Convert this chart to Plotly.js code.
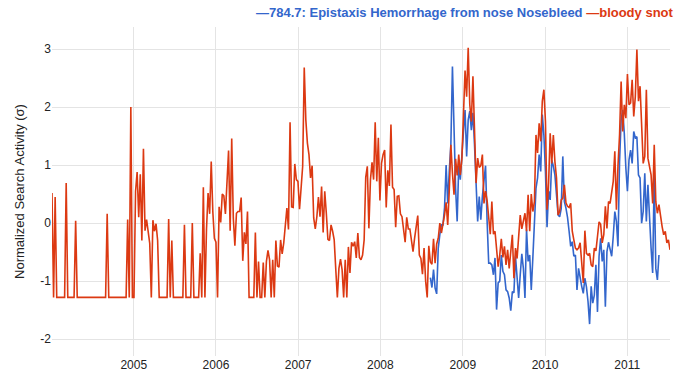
<!DOCTYPE html>
<html>
<head>
<meta charset="utf-8">
<script src="https://cdn.plot.ly/plotly-3.0.1.min.js"></script>
<style>html,body{margin:0;padding:0;background:#fff;}#chart{width:684px;height:380px;}</style>
</head>
<body>
<div id="chart"></div>
<script>
// Weekly series, first week starting 2004-01-04
const firstWeek = '2004-01-04';
const lastDay = '2011-07-10';

// "bloody snot" weekly normalized search activity (σ)
const bloodySnot = [
  0.52,-1.28,0.45,-1.28,-1.28,-1.28,-1.28,-1.28,-1.28,0.69,
  -1.28,-1.28,-1.28,-1.28,-1.28,0.04,-1.28,-1.28,-1.28,-1.28,
  -1.28,-1.28,-1.28,-1.28,-1.28,-1.28,-1.28,-1.28,-1.28,-1.28,
  -1.28,-1.28,-1.28,-1.28,-1.28,0.16,-1.28,-1.28,-1.28,-1.28,
  -1.28,-1.28,-1.28,-1.28,-1.28,-1.28,-1.28,-1.28,0.06,-1.28,
  2.0,-1.28,-1.28,0.55,0.88,0.1,0.84,-0.3,1.28,-0.13,
  0.06,-0.14,-0.35,-1.28,0.05,-0.14,-0.01,-0.3,-1.28,-1.28,
  -1.28,-1.28,-1.28,-1.28,0.07,-1.28,-0.3,-1.28,-1.28,-1.28,
  -1.28,-1.28,-1.28,-1.28,-0.03,-1.28,-1.28,-1.28,-1.28,0.0,
  -1.28,-1.28,-1.28,-1.28,-0.52,-1.28,0.62,-1.28,-0.1,0.52,
  0.16,1.06,0.2,-0.26,-0.33,-1.28,0.28,0.01,0.5,0.47,
  0.16,0.7,1.25,-0.13,1.46,0.09,-0.39,0.17,0.2,0.2,
  0.44,-0.65,-0.16,-0.36,0.2,-1.28,-1.28,-1.28,-1.28,-0.16,
  -1.28,-0.66,-1.28,-1.28,-0.68,-1.28,-0.66,-0.47,-0.63,-1.28,
  -0.63,-1.28,-0.3,-0.74,-0.76,-0.29,-0.53,-0.34,0.0,0.26,
  -0.11,1.74,0.28,0.27,1.02,0.75,0.72,0.24,0.6,0.98,
  2.68,1.78,1.38,1.18,0.78,0.99,0.09,-0.1,0.11,0.45,
  0.11,0.63,-0.16,0.55,0.17,-0.28,-0.3,-0.03,-0.14,-0.29,
  -0.8,-1.28,-0.78,-0.62,-0.8,-1.28,-0.63,-1.28,-0.41,-0.86,
  -0.33,-0.4,-0.32,-0.6,-0.17,-0.59,-0.63,-0.55,-0.29,0.79,
  0.98,-0.09,0.75,1.05,0.75,1.74,0.72,1.47,0.39,1.03,
  1.18,1.26,0.27,0.91,0.64,1.7,0.62,0.58,-0.07,0.46,
  0.47,0.16,0.11,-0.13,-0.33,0.1,-0.1,-0.1,-0.32,-0.49,
  -0.26,-0.04,0.13,-0.55,-0.61,-0.88,-0.43,-1.0,-1.28,-0.39,
  -0.67,-0.71,-0.27,-0.69,-0.36,-0.26,0.0,-0.17,-0.03,0.14,
  0.36,-0.03,0.57,1.35,0.86,0.49,1.11,0.82,1.18,0.83,
  1.12,1.78,2.63,2.18,3.02,2.04,1.75,2.53,1.75,0.69,
  1.12,0.96,0.99,1.18,0.34,0.55,0.39,0.06,-0.19,0.37,
  -0.19,-0.14,-0.43,-0.75,-0.55,-0.27,-0.59,-0.4,-0.72,-0.46,
  -0.78,-0.43,-0.2,-0.95,-0.43,-0.61,-0.3,0.14,-0.1,0.06,
  0.17,-0.14,0.49,-0.14,0.5,0.2,0.37,1.52,1.21,1.72,
  1.41,2.1,2.3,1.75,0.23,0.69,1.55,1.03,1.52,1.06,
  0.78,0.14,0.2,0.4,0.43,0.66,0.35,0.29,0.27,0.34,
  -0.14,-0.29,-0.43,-0.46,-0.43,-0.34,-0.72,-1.03,-0.13,-0.52,
  -0.55,-0.52,-0.72,-0.75,-0.43,-0.48,-0.23,0.02,-0.02,-0.34,
  -0.2,0.29,-0.09,0.37,0.34,0.55,0.72,1.24,0.23,0.98,
  1.52,2.44,1.58,2.04,1.81,2.57,2.04,2.07,2.47,1.84,
  2.18,2.99,2.1,2.36,1.58,1.03,1.15,2.3,1.12,0.98,
  0.83,0.34,1.35,0.37,0.17,0.32,0.11,-0.06,-0.2,-0.14,
  -0.34,-0.29,-0.46
];

// "784.7: Epistaxis Hemorrhage from nose Nosebleed", begins at week 240
const epistaxisFirstWeekIndex = 240;
const epistaxis = [
  -0.94,-1.11,-0.8,-1.12,-1.22,-0.43,-0.2,-0.03,-0.03,0.27,
  1.0,0.34,0.9,1.35,2.7,1.32,0.6,0.03,1.0,0.75,
  1.09,1.58,1.95,1.15,1.78,1.93,1.6,1.9,1.35,0.72,
  0.03,0.46,0.06,0.46,0.78,0.99,0.03,-0.69,-0.69,-0.72,
  -0.89,-0.6,-1.49,-1.03,-1.0,-0.55,-0.83,-0.89,-1.15,-1.18,
  -1.29,-1.51,-1.18,-1.2,-0.57,-1.03,-1.29,-0.89,-0.53,-0.78,
  -1.29,-0.11,-0.66,-0.55,-1.15,-0.6,-0.09,0.6,0.78,1.18,
  0.89,1.87,1.52,0.89,-0.07,0.55,0.4,1.09,0.98,0.83,
  0.49,0.14,0.11,0.25,1.15,0.37,0.26,0.1,-0.14,-0.4,
  -0.32,-0.57,-0.55,-1.15,-0.78,-0.98,-1.09,-1.21,-0.95,-1.1,
  -1.35,-1.74,-1.09,-1.38,-1.24,-0.72,-1.53,-0.57,-0.26,-0.66,
  -0.46,-1.44,-0.49,-0.33,-0.46,-0.57,-0.23,0.2,0.03,-0.4,
  1.06,1.78,1.95,1.55,0.95,0.55,1.09,1.26,1.03,1.58,
  1.47,1.49,0.83,0.78,0.0,0.2,0.86,0.03,0.66,-0.03,
  -0.43,-0.86,0.83,-0.78,-0.98,-0.55
];

const yearTicks = ['2005-01-01','2006-01-01','2007-01-01','2008-01-01','2009-01-01','2010-01-01','2011-01-01'];
const yearLabels = ['2005','2006','2007','2008','2009','2010','2011'];
const yTicks = [-2,-1,0,1,2,3];
const yTickLabels = ['-2','-1','0','1','2','3'];
const seriesNames = ['784.7: Epistaxis Hemorrhage from nose Nosebleed','bloody snot'];
const seriesColors = ['#3366cc','#dc3912'];

function weekDates(startIndex, n) {
  const base = new Date(firstWeek + 'T00:00:00Z').getTime();
  const out = [];
  for (let i = 0; i < n; i++) {
    const d = new Date(base + (startIndex + i) * 7 * 86400000);
    out.push(d.toISOString().slice(0, 10));
  }
  return out;
}

const traces = [
  {
    x: weekDates(epistaxisFirstWeekIndex, epistaxis.length),
    y: epistaxis,
    type: 'scatter', mode: 'lines', name: seriesNames[0],
    line: {color: seriesColors[0], width: 1.6}
  },
  {
    x: weekDates(0, bloodySnot.length),
    y: bloodySnot,
    type: 'scatter', mode: 'lines', name: seriesNames[1],
    line: {color: seriesColors[1], width: 1.6}
  }
];

const legendText = '<b><span style="color:' + seriesColors[0] + '">\u2014' + seriesNames[0] +
  '</span> <span style="color:' + seriesColors[1] + '">\u2014' + seriesNames[1] + '</span></b>';

const layout = {
  width: 684, height: 380,
  margin: {l: 52, r: 14, t: 27, b: 24, pad: 0},
  paper_bgcolor: '#ffffff', plot_bgcolor: '#ffffff',
  font: {family: 'Liberation Sans, Arial, sans-serif', size: 12, color: '#222222'},
  showlegend: false,
  xaxis: {
    type: 'date', range: [firstWeek, lastDay],
    tickmode: 'array', tickvals: yearTicks, ticktext: yearLabels,
    showgrid: true, gridcolor: '#e4e4e4', gridwidth: 1,
    zeroline: false, showline: false, ticks: '',
    tickfont: {size: 12, color: '#222222'}
  },
  yaxis: {
    range: [-2.29, 3.38],
    tickmode: 'array', tickvals: yTicks, ticktext: yTickLabels,
    showgrid: true, gridcolor: '#e4e4e4', gridwidth: 1,
    zeroline: false, showline: false, ticks: '',
    tickfont: {size: 12, color: '#222222'},
    title: {text: 'Normalized Search Activity (\u03c3)', font: {size: 13, color: '#222222'}, standoff: 12}
  },
  annotations: [{
    xref: 'paper', yref: 'paper', x: 1, y: 1,
    xanchor: 'right', yanchor: 'middle', xshift: 6, yshift: 15,
    showarrow: false, text: legendText,
    font: {size: 13, family: 'Liberation Sans, Arial, sans-serif'}
  }]
};

Plotly.newPlot('chart', traces, layout, {displayModeBar: false, staticPlot: true});
</script>
</body>
</html>
